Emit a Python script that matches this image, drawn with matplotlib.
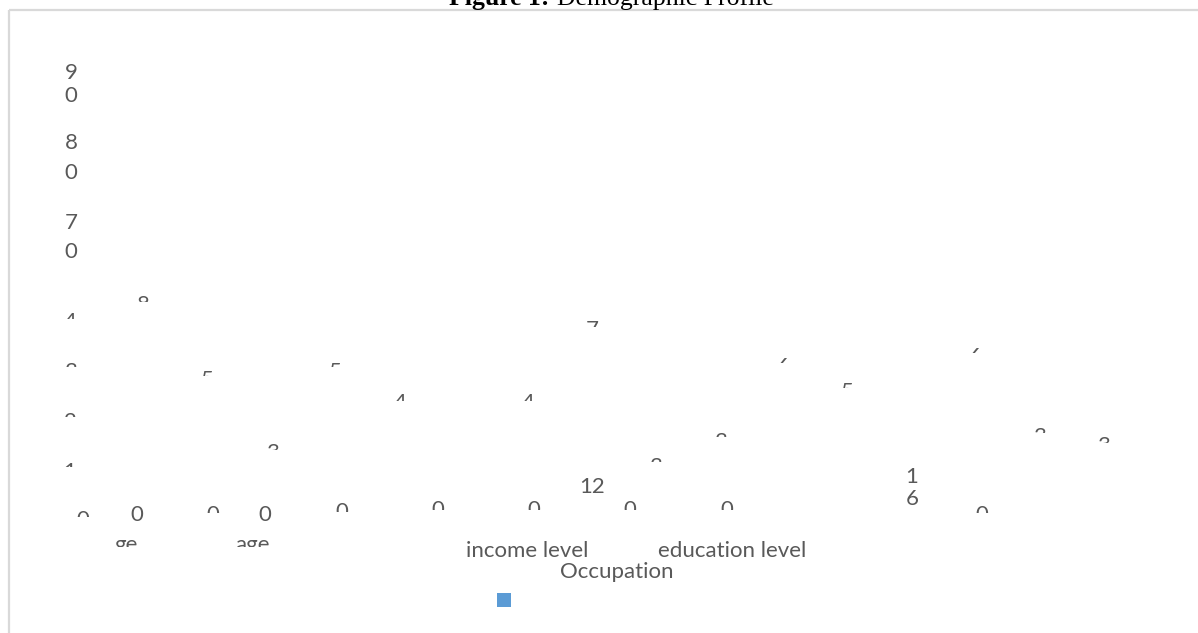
import matplotlib
matplotlib.use("Agg")
import matplotlib.pyplot as plt
from matplotlib.transforms import Bbox, TransformedBbox
from matplotlib.patches import Rectangle

# ---- chart content -------------------------------------------------------
title_bold = "Figure 1:"
title_rest = "Demographic Profile"

y_tick_labels = ["90", "80", "70", "40", "30", "20", "10", "0"]
value_labels = ["8", "5", "3", "5", "4", "4", "7", "12", "3", "3",
                "6", "5", "16", "6", "3", "3"]
zero_labels = ["0", "0", "0", "0", "0", "0", "0", "0", "0"]
category_labels = ["ge", "age", "income level", "education level", "Occupation"]
legend_color = "#5B9BD5"

# ---- layout (pixel units: x centre, glyph top, line gap, clip bottom) ----
y_tick_layout = [
    (71, 63, 23, None), (71, 133, 30, None), (71, 213, 29, None),
    (70, 312, 30, 319), (70, 362, 30, 367), (70, 412, 30, 417),
    (70, 462, 30, 467), (83, 510, 0, 517),
]
value_layout = [
    (143, 295, 0, 302), (207, 370, 0, 376), (272, 443, 0, 450),
    (335, 362, 0, 367), (400, 393, 0, 401), (528, 393, 0, 401),
    (592, 320, 0, 327), (592, 477, 0, None), (655, 457, 0, 462),
    (720, 432, 0, 437), (783, 357, 0, 363), (847, 382, 0, 388),
    (912, 467, 22, None), (975, 347, 0, 353), (1039, 427, 0, 433),
    (1103, 436, 0, 443),
]
zero_layout = [
    (137, 505, 0, None), (213, 505, 0, 513), (265, 505, 0, None),
    (342, 502, 0, 512), (438, 500, 0, 510), (534, 500, 0, 510),
    (630, 500, 0, 510), (727, 500, 0, 510), (982, 505, 0, 513),
]
# (x centre, baseline, clip bottom)
category_layout = [
    (126, 551, 547), (253, 551, 547), (527, 557, None),
    (732, 557, None), (617, 578, None),
]

W, H = 1198, 633
TEXT = "#595959"
FONT = "Lato"
FS = 16
CAP = 16  # rendered digit height in px

fig = plt.figure(figsize=(W / 100, H / 100), dpi=100)
ax = fig.add_axes([0, 0, 1, 1])
ax.set_xlim(0, W)
ax.set_ylim(H, 0)
ax.axis("off")


def clipped(t, cut):
    if cut is not None:
        box = TransformedBbox(Bbox([[0, -50], [W, cut]]), ax.transData)
        t.set_clip_box(box)
        t.set_clip_on(True)


def put_number(s, x, top, gap, cut):
    lines = list(s) if gap else [s]
    for i, line in enumerate(lines):
        t = ax.text(x, top + CAP + i * gap, line, ha="center", va="baseline",
                    fontsize=FS, family=FONT, color=TEXT)
        clipped(t, cut)


# chart frame
ax.plot([8.5, 8.5], [9.5, H + 5], color="#d9d9d9", lw=1.6,
        solid_capstyle="butt", clip_on=False)
ax.plot([8.5, W + 5], [9.5, 9.5], color="#d9d9d9", lw=1.6,
        solid_capstyle="butt", clip_on=False)

# title, partly cut by the top edge
ax.text(549, 5, title_bold, ha="right", va="baseline", fontsize=18.5,
        family="Liberation Serif", weight="bold", color="black")
ax.text(557, 5, title_rest, ha="left", va="baseline", fontsize=18.5,
        family="Liberation Serif", color="black")

for s, (x, top, gap, cut) in zip(y_tick_labels, y_tick_layout):
    put_number(s, x, top, gap, cut)
for s, (x, top, gap, cut) in zip(value_labels, value_layout):
    put_number(s, x, top, gap, cut)
for s, (x, top, gap, cut) in zip(zero_labels, zero_layout):
    put_number(s, x, top, gap, cut)

for s, (x, base, cut) in zip(category_labels, category_layout):
    t = ax.text(x, base, s, ha="center", va="baseline", fontsize=FS,
                family=FONT, color=TEXT)
    clipped(t, cut)

# legend key
ax.add_patch(Rectangle((497, 593), 14, 14, facecolor=legend_color,
                       edgecolor="none"))

fig.savefig("out.png", dpi=100, facecolor="white")
